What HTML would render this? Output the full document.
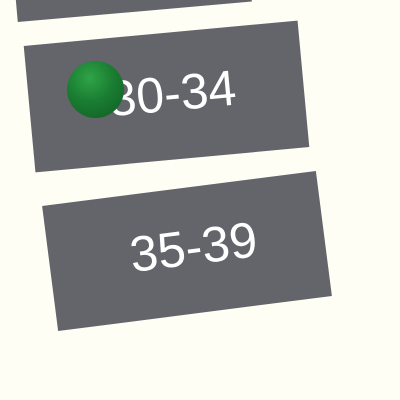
<!DOCTYPE html>
<html>
<head>
<meta charset="utf-8">
<style>
  html,body{margin:0;padding:0;}
  body{width:400px;height:400px;overflow:hidden;background:#fefef4;position:relative;font-family:"Liberation Sans",sans-serif;}
  .row{position:absolute;background:#63656b;color:#fff;display:flex;align-items:center;justify-content:center;font-size:50px;box-sizing:border-box;}
</style>
</head>
<body>
  <div class="row"
       style="left:12px;top:-110px;width:235px;height:122px;transform:rotate(-5deg);"></div>
  <div class="row"
       style="left:29px;top:33px;width:275px;height:127px;transform:rotate(-5.3deg);">
    <span style="margin-top:-6px;margin-left:12px;">30-34</span>
  </div>
  <div class="row"
       style="left:49px;top:188px;width:276px;height:126px;transform:rotate(-7.3deg);">
    <span style="margin-top:-6px;margin-left:14px;">35-39</span>
  </div>
  <div
       style="position:absolute;left:67px;top:61px;width:57px;height:57px;border-radius:50%;background:radial-gradient(circle at 40% 30%,#2fa447 0%,#1a7d32 45%,#0f5c22 100%);"></div>
</body>
</html>
